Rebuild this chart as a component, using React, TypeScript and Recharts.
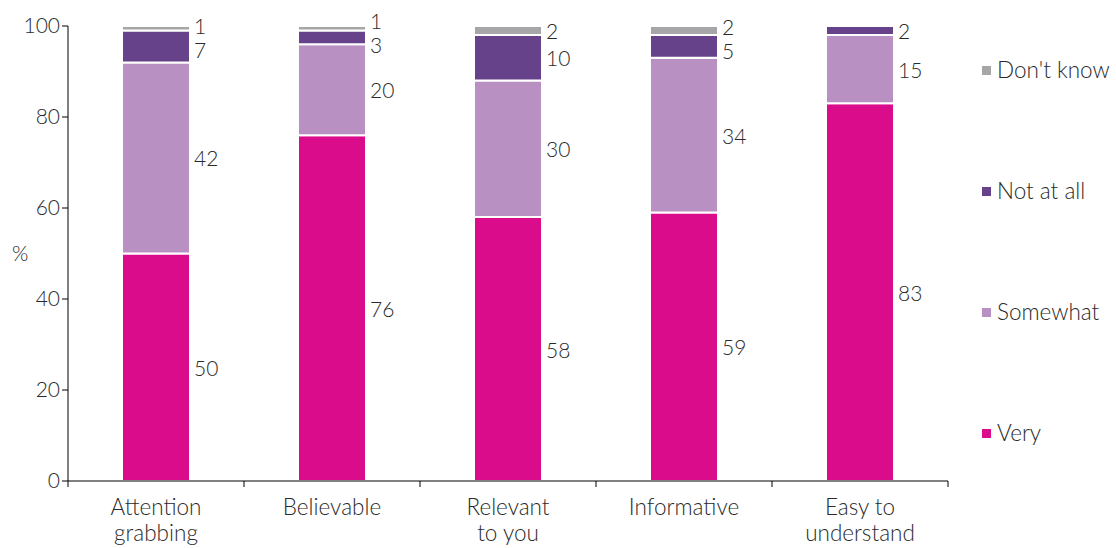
import React from 'react';
import { BarChart, Bar, XAxis, YAxis, LabelList } from 'recharts';

const categories = ['Attention grabbing', 'Believable', 'Relevant to you', 'Informative', 'Easy to understand'];
const categoryLines = [['Attention', 'grabbing'], ['Believable'], ['Relevant', 'to you'], ['Informative'], ['Easy to', 'understand']];
const very = [50, 76, 58, 59, 83];
const somewhat = [42, 20, 30, 34, 15];
const notAtAll = [7, 3, 10, 5, 2];
const dontKnow = [1, 1, 2, 2, 0];
const yTicks = [0, 20, 40, 60, 80, 100];

const series = [
  { key: 'very', name: 'Very', color: '#DA0C8B', values: very },
  { key: 'somewhat', name: 'Somewhat', color: '#B890C1', values: somewhat },
  { key: 'notAtAll', name: 'Not at all', color: '#66428A', values: notAtAll },
  { key: 'dontKnow', name: "Don't know", color: '#A6A6A8', values: dontKnow },
];

const data = categories.map((c, i) => {
  const row: any = { category: c, idx: i };
  series.forEach((s) => { row[s.key] = s.values[i]; });
  return row;
});

const FONT = 'Lato, "Open Sans", sans-serif';
const TEXT = '#2a2a2a';
const MIN_SEP = 24;

// Push apart the labels of the two thin top segments when they would collide.
function labelShift(seriesKey: string, index: number, y: number, height: number, value: number) {
  const dk = dontKnow[index];
  const na = notAtAll[index];
  if (!dk || !na || !value || !height) return 0;
  const ppu = height / value;
  let dkMid: number, naMid: number;
  if (seriesKey === 'dontKnow') {
    dkMid = y + height / 2;
    naMid = y + height + (na * ppu) / 2;
  } else {
    naMid = y + height / 2;
    dkMid = y - (dk * ppu) / 2;
  }
  const gap = naMid - dkMid;
  if (gap >= MIN_SEP) return 0;
  const push = (MIN_SEP - gap) / 2;
  return seriesKey === 'dontKnow' ? -push : push;
}

const makeLabel = (s: any) => (props: any) => {
  const { x, y, width, height } = props;
  const index = Number(props.value);
  const value = s.values[index];
  if (!value) return null;
  const shift = (s.key === 'dontKnow' || s.key === 'notAtAll') ? labelShift(s.key, index, Number(y), Number(height), value) : 0;
  return (
    <text x={Number(x) + Number(width) + 4} y={Number(y) + Number(height) / 2 + shift} dominantBaseline="central" textAnchor="start"
      fill={TEXT} fontSize={21} fontFamily={FONT} fontWeight={300}>{value}</text>
  );
};

const CategoryTick = (props: any) => {
  const { x, y, payload, width, visibleTicksCount, index } = props;
  const idx = categories.indexOf(payload.value);
  const lines = categoryLines[idx] || [payload.value];
  const bw = width / (visibleTicksCount || categories.length);
  return (
    <g>
      <line x1={x - bw / 2} x2={x - bw / 2} y1={y - 6} y2={y} stroke="#000" />
      {index === categories.length - 1 && (
        <line x1={x + bw / 2} x2={x + bw / 2} y1={y - 6} y2={y} stroke="#000" />
      )}
      <text x={x} y={y} textAnchor="middle" fill={TEXT} fontSize={22.5} fontFamily={FONT} fontWeight={300}>
        {lines.map((l, i) => (
          <tspan key={i} x={x} dy={i === 0 ? 28 : 26}>{l}</tspan>
        ))}
      </text>
    </g>
  );
};

export default function App() {
  return (
    <div style={{ position: 'absolute', left: 0, top: 0, width: 1116, height: 548, background: '#fff', fontFamily: FONT }}>
      <BarChart width={1116} height={548} data={data} margin={{ top: 26, right: 168, bottom: 0, left: 0 }}>
        <XAxis dataKey="category" height={67} tickLine={false} tickSize={6} tickMargin={0}
          axisLine={{ stroke: '#000' }} interval={0} tick={<CategoryTick />} />
        <YAxis width={68} domain={[0, 100]} ticks={yTicks} axisLine={{ stroke: '#000' }}
          tickLine={{ stroke: '#000' }} tickSize={6} tickMargin={2}
          tick={{ fill: TEXT, fontSize: 21, fontFamily: FONT, fontWeight: 300 }}
          label={{ value: '%', position: 'insideLeft', offset: 12, fill: TEXT, fontSize: 21, fontFamily: FONT, fontWeight: 300 }} />
        {series.map((s) => (
          <Bar key={s.key} dataKey={s.key} name={s.name} stackId="a" fill={s.color} stroke="#fff" strokeWidth={2}
            barSize={68} isAnimationActive={false}>
            <LabelList dataKey="idx" content={makeLabel(s)} />
          </Bar>
        ))}
      </BarChart>
      <div style={{ position: 'absolute', left: 982, top: 58, width: 134 }}>
        {[...series].reverse().map((s, i) => (
          <div key={s.key} style={{ height: 24, lineHeight: '24px', marginBottom: i < 3 ? 97 : 0, display: 'flex', alignItems: 'center', color: TEXT, fontSize: 22.5, fontWeight: 300, whiteSpace: 'nowrap' }}>
            <span style={{ display: 'inline-block', width: 9, height: 9, background: s.color, marginRight: 6 }} />
            <span>{s.name}</span>
          </div>
        ))}
      </div>
    </div>
  );
}
